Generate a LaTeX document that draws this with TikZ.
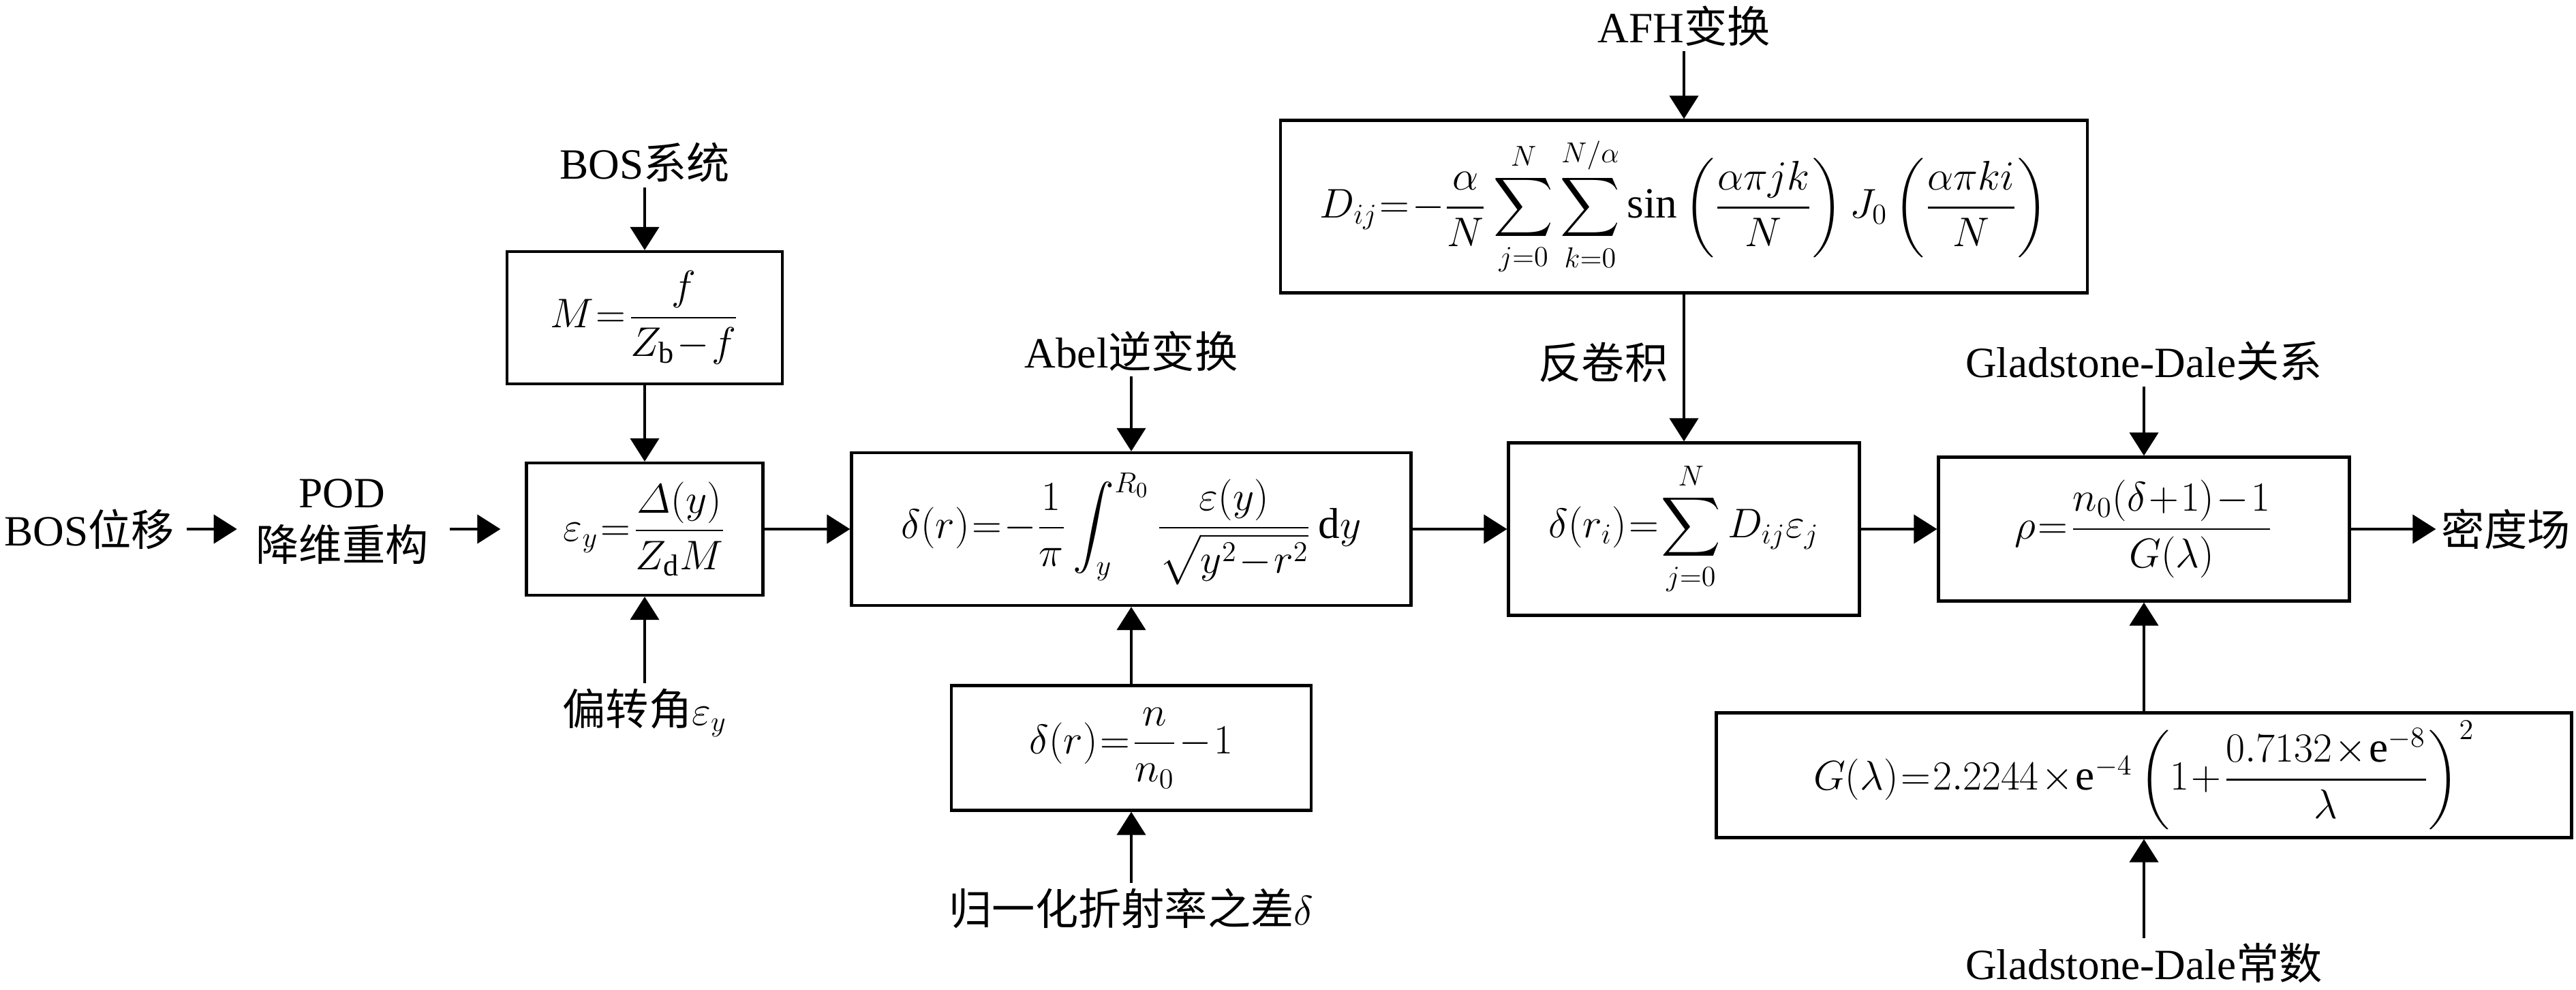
\documentclass[tikz,border=0pt]{standalone}
\usepackage{amsmath}
\usepackage{fontspec}
\setmainfont{Liberation Serif}
\newfontfamily\cjk{Noto Sans CJK SC}
\usepackage{tikz}
\usetikzlibrary{shapes,arrows.meta,positioning}

\newcommand\tightmath{\thickmuskip=1mu\relax\medmuskip=1mu\relax}
\tikzset{
  box/.style={draw, line width=1.2pt, inner sep=0pt, align=center},
  lbl/.style={inner sep=2pt, align=center},
  arr/.style={line width=1.2pt, -{Triangle[length=0.34cm,width=0.42cm]}},
}

\begin{document}
\begin{tikzpicture}[every node/.style={font=\fontsize{18}{22}\selectfont\tightmath}]
\useasboundingbox (0,0) rectangle (37.8,-14.52);

% boxes
\node[box, minimum width=4.04cm, minimum height=1.94cm] (mag) at (9.46,-4.66) {$M=\dfrac{f}{Z_{\mathrm{b}}-f}$};
\node[box, minimum width=3.47cm, minimum height=1.94cm] (defl) at (9.46,-7.76) {$\varepsilon_y=\dfrac{\mathnormal{\Delta}(y)}{Z_{\mathrm{d}}M}$};
\node[box, minimum width=8.21cm, minimum height=2.24cm] (abel) at (16.60,-7.76) {$\delta(r)=-\dfrac{1}{\pi}\displaystyle\int_y^{R_0}\dfrac{\varepsilon(y)}{\sqrt{y^2-r^2}}\,\mathrm{d}y$};
\node[box, minimum width=5.28cm, minimum height=1.83cm] (norm) at (16.60,-10.97) {$\delta(r)=\dfrac{n}{n_0}-1$};
\node[box, minimum width=11.84cm, minimum height=2.53cm] (afh) at (24.71,-3.03) {$D_{ij}=-\dfrac{\alpha}{N}\displaystyle\sum_{j=0}^{N}\sum_{k=0}^{N/\alpha}\sin\left(\dfrac{\alpha\pi jk}{N}\right)J_0\left(\dfrac{\alpha\pi ki}{N}\right)$};
\node[box, minimum width=5.15cm, minimum height=2.53cm] (dec) at (24.71,-7.76) {$\delta(r_i)=\displaystyle\sum_{j=0}^{N}D_{ij}\varepsilon_j$};
\node[box, minimum width=6.03cm, minimum height=2.11cm] (gd) at (31.46,-7.76) {$\rho=\dfrac{n_0(\delta+1)-1}{G(\lambda)}$};
\node[box, minimum width=12.55cm, minimum height=1.83cm] (glam) at (31.46,-11.37) {$G(\lambda)=2.2244\times\mathrm{e}^{-4}\left(1+\dfrac{0.7132\times\mathrm{e}^{-8}}{\lambda}\right)^2$};

% labels
\node[lbl] (bossys) at (9.46,-2.38) {BOS{\cjk 系统}};
\node[lbl] (angle) at (9.46,-10.45) {{\cjk 偏转角}$\varepsilon_y$};
\node[lbl] (disp) at (1.31,-7.76) {BOS{\cjk 位移}};
\node[lbl] (pod) at (5.02,-7.65) {POD\\{\cjk 降维重构}};
\node[lbl] (abelt) at (16.60,-5.15) {Abel{\cjk 逆变换}};
\node[lbl] (diff) at (16.60,-13.32) {{\cjk 归一化折射率之差}$\delta$};
\node[lbl] (afht) at (24.71,-0.38) {AFH{\cjk 变换}};
\node[lbl, anchor=east] (deconv) at (24.55,-5.31) {{\cjk 反卷积}};
\node[lbl] (gdrel) at (31.46,-5.30) {Gladstone-Dale{\cjk 关系}};
\node[lbl] (out) at (36.77,-7.76) {{\cjk 密度场}};
\node[lbl] (gdconst) at (31.46,-14.13) {Gladstone-Dale{\cjk 常数}};

% connectors
\draw[arr] (bossys) -- (mag);
\draw[arr] (mag) -- (defl);
\draw[arr] (angle) -- (defl);
\draw[arr, shorten <=0.1cm, shorten >=0.2cm] (disp) -- (disp -| pod.west);
\draw[arr, shorten <=0.24cm, shorten >=0.36cm] (pod.east |- defl) -- (defl);
\draw[arr] (defl) -- (abel);
\draw[arr] (abelt) -- (abel);
\draw[arr] (norm) -- (abel);
\draw[arr] (diff) -- (norm);
\draw[arr] (afht) -- (afh);
\draw[arr] (afh) -- (dec);
\draw[arr] (abel) -- (dec);
\draw[arr] (dec) -- (gd);
\draw[arr] (gdrel) -- (gd);
\draw[arr] (glam) -- (gd);
\draw[arr] (gdconst) -- (glam);
\draw[arr] (gd) -- (out);
\end{tikzpicture}
\end{document}
